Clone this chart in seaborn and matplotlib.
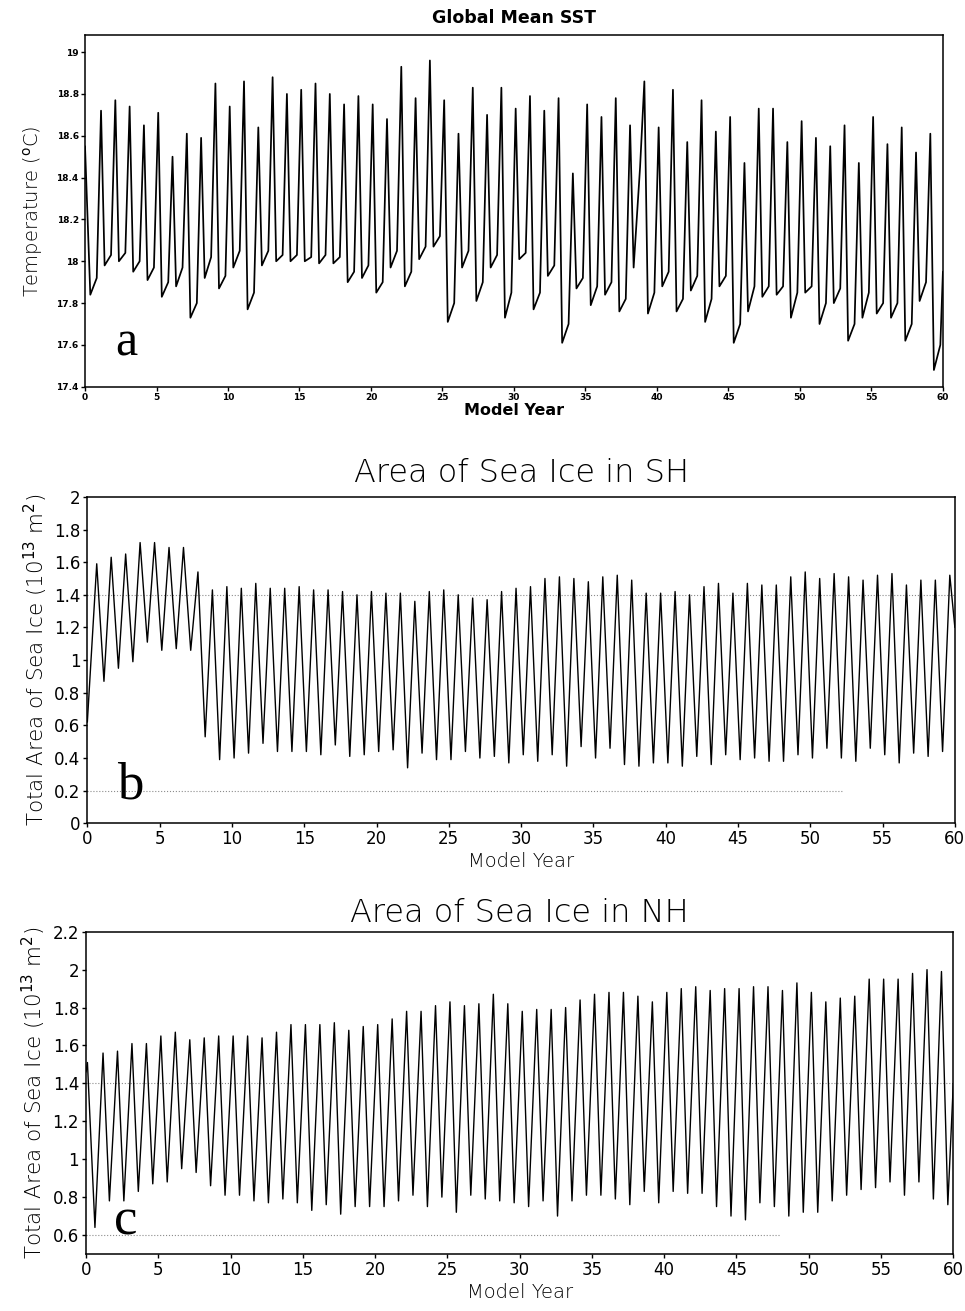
import numpy as np
import pandas as pd
import seaborn as sns
import matplotlib.pyplot as plt

# -----------------------------------------------------------------------------
# Values (one seasonal cycle per model year)
# -----------------------------------------------------------------------------

# Global mean SST (deg C)
sst_start = 18.55
sst_end = 17.95
# annual maximum, years 1..59
sst_peak = [18.72, 18.77, 18.74, 18.65, 18.71, 18.50, 18.61, 18.59, 18.85, 18.74,
            18.86, 18.64, 18.88, 18.80, 18.82, 18.85, 18.80, 18.75, 18.79, 18.75,
            18.68, 18.93, 18.78, 18.96, 18.77, 18.61, 18.83, 18.70, 18.83, 18.73,
            18.79, 18.72, 18.78, 18.42, 18.75, 18.69, 18.78, 18.65, 18.86, 18.64,
            18.82, 18.57, 18.77, 18.62, 18.69, 18.47, 18.73, 18.73, 18.57, 18.67,
            18.59, 18.55, 18.65, 18.47, 18.69, 18.56, 18.64, 18.52, 18.61]
# annual minimum, years 0..59
sst_trough = [17.84, 17.98, 18.00, 17.95, 17.91, 17.83, 17.88, 17.73, 17.92, 17.87,
              17.97, 17.77, 17.98, 18.00, 18.00, 18.00, 17.99, 17.99, 17.90, 17.92,
              17.85, 17.97, 17.88, 18.01, 18.07, 17.71, 17.97, 17.81, 17.97, 17.73,
              18.01, 17.77, 17.93, 17.61, 17.87, 17.79, 17.84, 17.76, 17.97, 17.75,
              17.88, 17.76, 17.86, 17.71, 17.88, 17.61, 17.76, 17.83, 17.84, 17.73,
              17.85, 17.70, 17.80, 17.62, 17.73, 17.75, 17.73, 17.62, 17.81, 17.48]
# level just before the spring warming, years 0..59
sst_knee = [17.92, 18.03, 18.04, 18.00, 17.97, 17.90, 17.97, 17.80, 18.02, 17.93,
            18.05, 17.85, 18.05, 18.03, 18.03, 18.02, 18.03, 18.02, 17.95, 17.98,
            17.90, 18.05, 17.95, 18.07, 18.12, 17.80, 18.05, 17.90, 18.03, 17.85,
            18.04, 17.85, 17.98, 17.70, 17.92, 17.88, 17.90, 17.82, 18.45, 17.85,
            17.95, 17.82, 17.93, 17.82, 17.93, 17.70, 17.88, 17.88, 17.88, 17.85,
            17.88, 17.80, 17.87, 17.70, 17.85, 17.80, 17.80, 17.70, 17.90, 17.60]

# Southern Hemisphere sea ice area (10^13 m^2)
sh_start = 0.62
sh_end = 1.20
# annual maximum, years 0..59
sh_peak = [1.59, 1.63, 1.65, 1.72, 1.72, 1.69, 1.69, 1.54, 1.43, 1.45,
           1.44, 1.47, 1.44, 1.44, 1.45, 1.43, 1.43, 1.42, 1.40, 1.42,
           1.41, 1.41, 1.36, 1.42, 1.43, 1.40, 1.38, 1.37, 1.42, 1.44,
           1.45, 1.50, 1.51, 1.50, 1.48, 1.51, 1.52, 1.49, 1.41, 1.41,
           1.42, 1.40, 1.45, 1.47, 1.41, 1.47, 1.46, 1.46, 1.51, 1.54,
           1.50, 1.53, 1.51, 1.49, 1.52, 1.53, 1.46, 1.49, 1.49, 1.52]
# annual minimum, years 1..59
sh_trough = [0.87, 0.95, 0.99, 1.11, 1.06, 1.07, 1.06, 0.53, 0.39, 0.40,
             0.43, 0.49, 0.44, 0.44, 0.44, 0.42, 0.48, 0.41, 0.42, 0.44,
             0.45, 0.34, 0.43, 0.39, 0.39, 0.44, 0.40, 0.41, 0.37, 0.42,
             0.38, 0.42, 0.35, 0.47, 0.40, 0.46, 0.36, 0.35, 0.37, 0.37,
             0.35, 0.41, 0.36, 0.42, 0.39, 0.40, 0.38, 0.38, 0.42, 0.40,
             0.46, 0.40, 0.38, 0.46, 0.42, 0.37, 0.43, 0.41, 0.44]

# Northern Hemisphere sea ice area (10^13 m^2)
nh_start = 1.46
nh_end = 1.40
# annual maximum, years 0..59
nh_peak = [1.51, 1.56, 1.57, 1.61, 1.61, 1.65, 1.67, 1.63, 1.64, 1.65,
           1.65, 1.65, 1.64, 1.67, 1.71, 1.71, 1.71, 1.72, 1.68, 1.70,
           1.71, 1.74, 1.78, 1.78, 1.81, 1.83, 1.81, 1.82, 1.87, 1.82,
           1.78, 1.79, 1.79, 1.80, 1.84, 1.87, 1.88, 1.88, 1.86, 1.83,
           1.88, 1.90, 1.91, 1.89, 1.90, 1.90, 1.91, 1.91, 1.89, 1.93,
           1.88, 1.83, 1.85, 1.86, 1.95, 1.95, 1.95, 1.98, 2.00, 1.99]
# annual minimum, years 0..59
nh_trough = [0.64, 0.78, 0.78, 0.83, 0.87, 0.88, 0.95, 0.93, 0.86, 0.81,
             0.81, 0.78, 0.77, 0.79, 0.77, 0.73, 0.76, 0.71, 0.75, 0.75,
             0.75, 0.78, 0.81, 0.75, 0.80, 0.72, 0.81, 0.79, 0.78, 0.77,
             0.75, 0.78, 0.70, 0.78, 0.81, 0.81, 0.79, 0.76, 0.83, 0.77,
             0.83, 0.82, 0.82, 0.75, 0.70, 0.68, 0.77, 0.75, 0.70, 0.72,
             0.72, 0.78, 0.81, 0.84, 0.85, 0.88, 0.81, 0.88, 0.79, 0.76]

n_years = 60
year_ticks = list(range(0, 61, 5))

# -----------------------------------------------------------------------------
# Assemble the time series (year + phase of the season)
# -----------------------------------------------------------------------------

t, v = [0.0], [sst_start]
for y in range(n_years):
    if y >= 1:
        t.append(y + 0.12)
        v.append(sst_peak[y - 1])
    t.append(y + 0.37)
    v.append(sst_trough[y])
    t.append(y + 0.82)
    v.append(sst_knee[y])
t.append(60.0)
v.append(sst_end)
df_sst = pd.DataFrame({"year": t, "value": v})

t, v = [0.0], [sh_start]
for y in range(n_years):
    if y >= 1:
        t.append(y + 0.15)
        v.append(sh_trough[y - 1])
    t.append(y + 0.65)
    v.append(sh_peak[y])
t.append(60.0)
v.append(sh_end)
df_sh = pd.DataFrame({"year": t, "value": v})

t, v = [0.0], [nh_start]
for y in range(n_years):
    t.append(y + (0.1 if y == 0 else 0.18))
    v.append(nh_peak[y])
    t.append(y + 0.62)
    v.append(nh_trough[y])
t.append(60.0)
v.append(nh_end)
df_nh = pd.DataFrame({"year": t, "value": v})

# -----------------------------------------------------------------------------
# Figure
# -----------------------------------------------------------------------------

sns.set_style("ticks")
plt.rcParams["font.family"] = ["DejaVu Sans"]
plt.rcParams["axes.linewidth"] = 1.1
for key in ["text.color", "axes.labelcolor", "xtick.color", "ytick.color",
            "axes.edgecolor"]:
    plt.rcParams[key] = "black"

fig = plt.figure(figsize=(9.65, 13.11), dpi=100)

ax_a = fig.add_axes([0.0881, 0.705, 0.889, 0.268])
ax_b = fig.add_axes([0.0905, 0.372, 0.899, 0.249])
ax_c = fig.add_axes([0.0891, 0.0435, 0.8988, 0.2458])

line_kw = dict(x="year", y="value", color="black", estimator=None, sort=False)

# --- a: global mean SST
sns.lineplot(data=df_sst, ax=ax_a, linewidth=1.25, **line_kw)
ax_a.set_xlim(0, 60)
ax_a.set_ylim(17.4, 19.08)
ax_a.set_xticks(year_ticks)
ax_a.set_yticks([17.4, 17.6, 17.8, 18, 18.2, 18.4, 18.6, 18.8, 19])
ax_a.set_yticklabels(["17.4", "17.6", "17.8", "18", "18.2", "18.4",
                      "18.6", "18.8", "19"])
ax_a.tick_params(labelsize=6.5, length=3, width=1, pad=1.5)
for lab in ax_a.get_xticklabels() + ax_a.get_yticklabels():
    lab.set_fontweight("bold")
ax_a.set_xlabel("Model Year", fontsize=11.5, fontweight="bold", labelpad=1)
ax_a.set_ylabel("Temperature ($^{\\rm o}$C)", fontsize=14, fontweight="light",
                labelpad=8)
ax_a.set_title("Global Mean SST", fontsize=12.5, fontweight="bold", pad=9)
ax_a.text(0.035, 0.09, "a", transform=ax_a.transAxes, fontsize=36,
          family="Liberation Serif", va="baseline", ha="left")

# --- b: SH sea ice
sns.lineplot(data=df_sh, ax=ax_b, linewidth=1.0, **line_kw)
for lev, xmax in [(1.4, 1.0), (0.2, 0.87)]:
    ax_b.axhline(lev, xmax=xmax, color="0.55", linestyle=":", linewidth=0.8, zorder=0)
ax_b.set_xlim(0, 60)
ax_b.set_ylim(0, 2)
ax_b.set_xticks(year_ticks)
ax_b.set_yticks(np.arange(0, 2.01, 0.2))
ax_b.set_yticklabels(["0", "0.2", "0.4", "0.6", "0.8", "1", "1.2", "1.4",
                      "1.6", "1.8", "2"])
ax_b.tick_params(labelsize=12, length=3, width=1, pad=2)
ax_b.set_xlabel("Model Year", fontsize=14, fontweight="light", labelpad=3)
ax_b.set_ylabel("Total Area of Sea Ice (10$^{13}$ m$^2$)", fontsize=15.5,
                fontweight="light", labelpad=3)
ax_b.set_title("Area of Sea Ice in SH", fontsize=23, fontweight="light", pad=11)
ax_b.text(0.034, 0.075, "b", transform=ax_b.transAxes, fontsize=38,
          family="Liberation Serif", va="baseline", ha="left")

# --- c: NH sea ice
sns.lineplot(data=df_nh, ax=ax_c, linewidth=1.0, **line_kw)
for lev, xmax in [(1.4, 1.0), (0.6, 0.80)]:
    ax_c.axhline(lev, xmax=xmax, color="0.55", linestyle=":", linewidth=0.8, zorder=0)
ax_c.set_xlim(0, 60)
ax_c.set_ylim(0.5, 2.2)
ax_c.set_xticks(year_ticks)
ax_c.set_yticks(np.arange(0.6, 2.21, 0.2))
ax_c.set_yticklabels(["0.6", "0.8", "1", "1.2", "1.4", "1.6", "1.8", "2", "2.2"])
ax_c.tick_params(labelsize=12, length=3, width=1, pad=2)
ax_c.set_xlabel("Model Year", fontsize=14, fontweight="light", labelpad=3)
ax_c.set_ylabel("Total Area of Sea Ice (10$^{13}$ m$^2$)", fontsize=15.5,
                fontweight="light", labelpad=3)
ax_c.set_title("Area of Sea Ice in NH", fontsize=23, fontweight="light", pad=7)
ax_c.text(0.032, 0.06, "c", transform=ax_c.transAxes, fontsize=38,
          family="Liberation Serif", va="baseline", ha="left")

fig.savefig("out.png", dpi=100)
